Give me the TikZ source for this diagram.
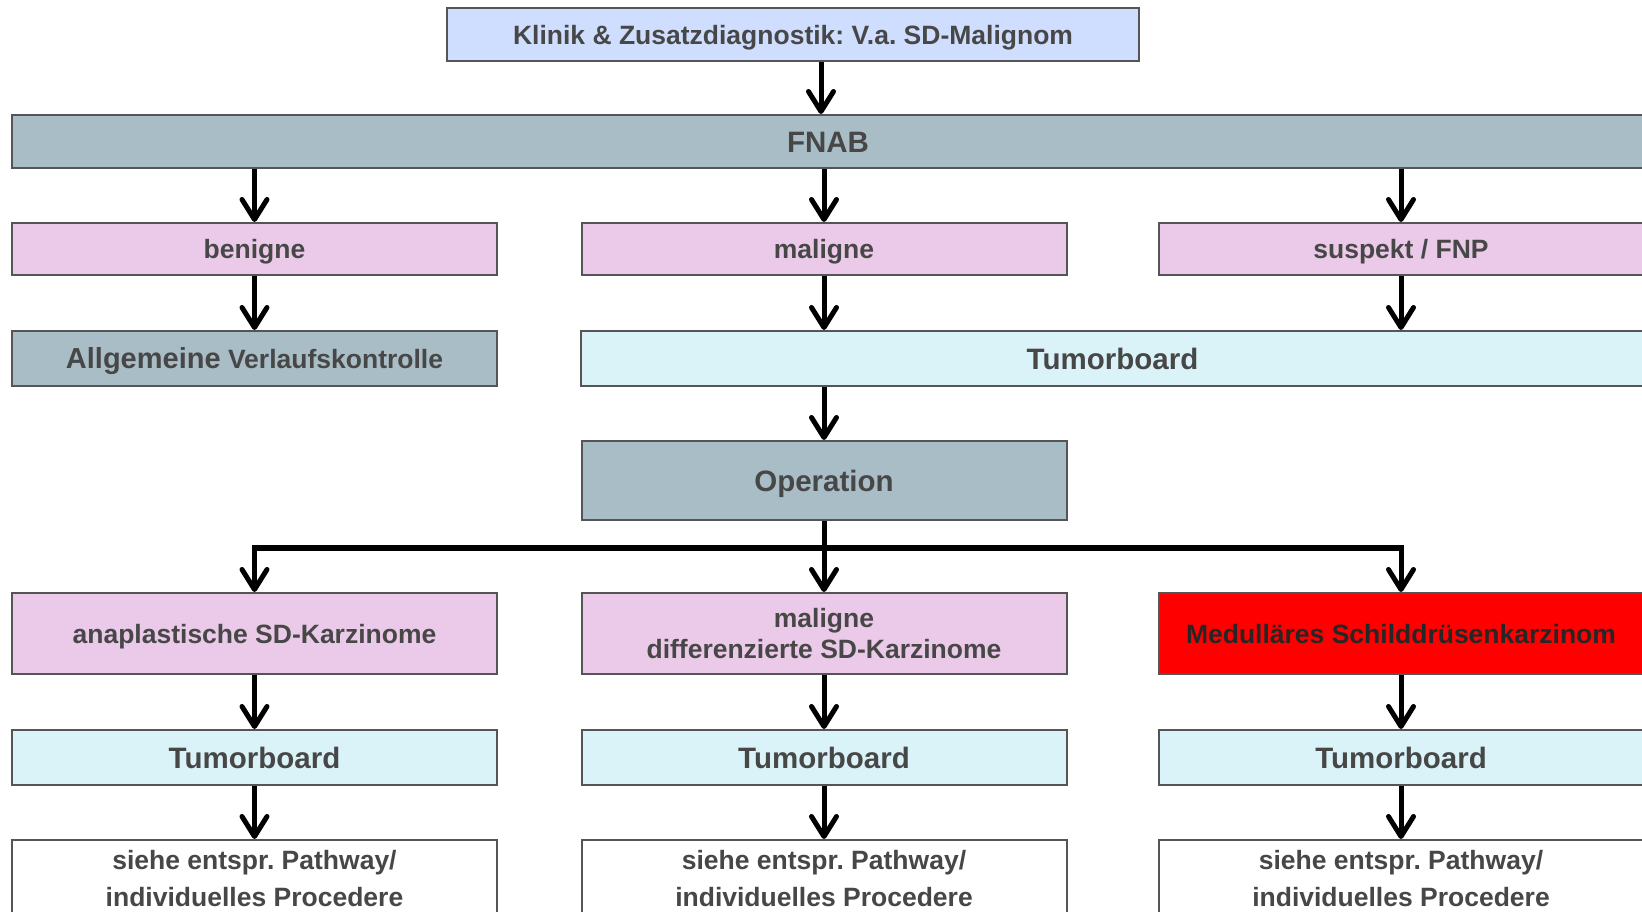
\documentclass[tikz,border=0pt]{standalone}
\usepackage{fontspec}
\setmainfont{Liberation Sans}
\usetikzlibrary{arrows.meta}
\frenchspacing
\definecolor{tx}{HTML}{474747}
\definecolor{txdark}{HTML}{262626}
\definecolor{bord}{HTML}{555555}
\definecolor{cTop}{HTML}{CFDEFF}
\definecolor{cGray}{HTML}{A9BDC6}
\definecolor{cPink}{HTML}{EACAE8}
\definecolor{cCyan}{HTML}{DAF3F8}
\definecolor{cRed}{HTML}{FF0000}
\begin{document}
\begin{tikzpicture}[x=1pt,y=-1pt,
 box/.style={draw=bord, line width=2pt, text=tx, font=\bfseries\frenchspacing\fontsize{26.5}{31}\selectfont, align=center, inner sep=0pt, minimum width=485pt},
 one/.style={text height=19.3pt, text depth=0pt},
 big/.style={font=\bfseries\fontsize{29.5}{33}\selectfont, text height=21.5pt, text depth=0pt},
 arr/.style={line width=5pt, -{Straight Barb[length=20pt,width=25pt,round]}},
 bus/.style={line width=6pt},
]
\clip (0,0) rectangle (1642,912);
\fill[white] (0,0) rectangle (1642,912);
% row 0
\node[box, one, fill=cTop, minimum width=692pt, minimum height=53pt] (top) at (793,34.5) {Klinik \& Zusatzdiagnostik: V.a. SD-Malignom};
% row 1
\node[box, big, fill=cGray, minimum width=1632pt, minimum height=53pt] (fnab) at (828,141.5) {FNAB};
% row 2
\node[box, one, fill=cPink, minimum height=52pt] (ben) at (254.5,249) {benigne};
\node[box, one, fill=cPink, minimum height=52pt] (mal) at (824,249) {maligne};
\node[box, one, fill=cPink, minimum height=52pt] (sus) at (1401,249) {suspekt / FNP};
% row 3
\node[box, fill=cGray, minimum height=55pt, text height=20.8pt, text depth=0pt] (allg) at (254.5,358.5) {{\fontsize{29}{33}\selectfont Allgemeine} Verlaufskontrolle};
\node[box, big, fill=cCyan, minimum width=1063pt, minimum height=55pt] (tb) at (1112.5,358.5) {Tumorboard};
% row 4
\node[box, big, fill=cGray, minimum height=79pt] (op) at (824,480.5) {Operation};
% row 5
\node[box, one, fill=cPink, minimum height=81pt] (ana) at (254.5,633.5) {anaplastische SD-Karzinome};
\node[box, fill=cPink, minimum height=81pt] (mdc) at (824,633.5) {maligne\\differenzierte SD-Karzinome};
\node[box, one, fill=cRed, text=txdark, minimum height=81pt] (mtc) at (1401,633.5) {Medulläres Schilddrüsenkarzinom};
% row 6
\node[box, big, fill=cCyan, minimum height=55pt] (tb1) at (254.5,757.5) {Tumorboard};
\node[box, big, fill=cCyan, minimum height=55pt] (tb2) at (824,757.5) {Tumorboard};
\node[box, big, fill=cCyan, minimum height=55pt] (tb3) at (1401,757.5) {Tumorboard};
% row 7
\node[box, fill=white, minimum height=77pt, font=\bfseries\fontsize{26.5}{37}\selectfont, anchor=north] (pw1) at (254.5,839) {siehe entspr. Pathway/\\individuelles Procedere};
\node[box, fill=white, minimum height=77pt, font=\bfseries\fontsize{26.5}{37}\selectfont, anchor=north] (pw2) at (824,839) {siehe entspr. Pathway/\\individuelles Procedere};
\node[box, fill=white, minimum height=77pt, font=\bfseries\fontsize{26.5}{37}\selectfont, anchor=north] (pw3) at (1401,839) {siehe entspr. Pathway/\\individuelles Procedere};
% connectors
\draw[arr] ([xshift=28pt]top.south) -- ([xshift=28pt]top.south |- fnab.north);
\draw[arr] (fnab.south -| ben.north) -- (ben.north);
\draw[arr] (fnab.south -| mal.north) -- (mal.north);
\draw[arr] (fnab.south -| sus.north) -- (sus.north);
\draw[arr] (ben.south) -- (allg.north);
\draw[arr] (mal.south) -- (mal.south |- tb.north);
\draw[arr] (sus.south) -- (sus.south |- tb.north);
\draw[arr] (tb.south -| op.north) -- (op.north);
\coordinate (busL) at (254.5,548);
\coordinate (busR) at (1401,548);
\draw[bus] ([xshift=-2.5pt]busL) -- ([xshift=2.5pt]busR);
\draw[arr] ([yshift=-3pt]busL) -- (ana.north);
\draw[arr] (op.south) -- (op.south |- mdc.north);
\draw[arr] ([yshift=-3pt]busR) -- (mtc.north);
\draw[arr] (ana.south) -- (tb1.north);
\draw[arr] (mdc.south) -- (tb2.north);
\draw[arr] (mtc.south) -- (tb3.north);
\draw[arr] (tb1.south) -- (pw1.north);
\draw[arr] (tb2.south) -- (pw2.north);
\draw[arr] (tb3.south) -- (pw3.north);
\end{tikzpicture}
\end{document}
